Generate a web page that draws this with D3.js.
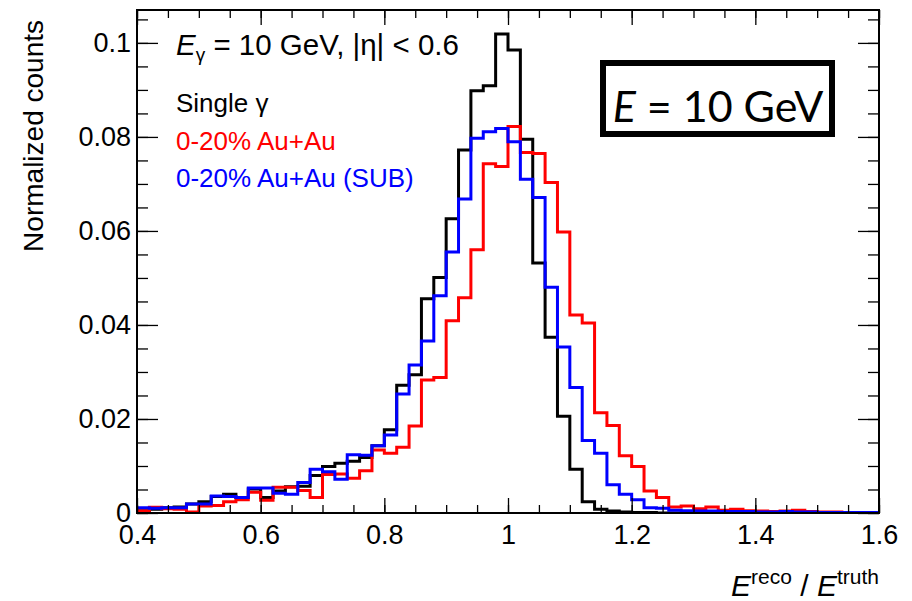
<!DOCTYPE html>
<html>
<head>
<meta charset="utf-8">
<script src="https://cdn.jsdelivr.net/npm/d3@7"></script>
<style>
  body { margin: 0; background: #fff; }
  svg { display: block; }
  text { font-family: "Liberation Sans", Arial, sans-serif; }
</style>
</head>
<body>
<div id="chart"></div>
<script>
// histogram binning (E_reco / E_truth)
const binStart = 0.4;
const binWidth = 0.02;

const singleGamma = [
  0.0005, 0.0008, 0.0011, 0.0013, 0.0019, 0.0024, 0.0035, 0.0040, 0.0033, 0.0051,
  0.0033, 0.0047, 0.0056, 0.0057, 0.0080, 0.0099, 0.0106, 0.0110, 0.0118, 0.0143,
  0.0177, 0.0272, 0.0294, 0.0456, 0.0501, 0.0626, 0.0772, 0.0898, 0.0909, 0.1019,
  0.0985, 0.0795, 0.0532, 0.0374, 0.0206, 0.0093, 0.0024, 0.0008, 0.0004, 0.0002,
  0.0001, 0.0001, 0, 0, 0, 0, 0, 0, 0, 0,
  0, 0, 0, 0, 0, 0, 0, 0, 0, 0
];
const auau = [
  0.0005, 0.0012, 0.0009, 0.0008, 0.0002, 0.0015, 0.0016, 0.0024, 0.0028, 0.0044,
  0.0027, 0.0055, 0.0055, 0.0048, 0.0033, 0.0082, 0.0083, 0.0074, 0.0090, 0.0134,
  0.0127, 0.0140, 0.0185, 0.0283, 0.0288, 0.0409, 0.0458, 0.0560, 0.0743, 0.0737,
  0.0822, 0.0767, 0.0765, 0.0703, 0.0598, 0.0421, 0.0404, 0.0213, 0.0186, 0.0122,
  0.0099, 0.0047, 0.0033, 0.0013, 0.0015, 0.0009, 0.0013, 0.0006, 0.0008, 0.0005,
  0.0004, 0.0003, 0.0004, 0.0006, 0.0003, 0.0002, 0.0002, 0.0001, 0.0001, 0.0001
];
const auauSub = [
  0.0011, 0.0010, 0.0011, 0.0011, 0.0019, 0.0019, 0.0036, 0.0035, 0.0033, 0.0053,
  0.0053, 0.0042, 0.0040, 0.0065, 0.0093, 0.0088, 0.0072, 0.0124, 0.0123, 0.0143,
  0.0166, 0.0253, 0.0315, 0.0366, 0.0462, 0.0555, 0.0668, 0.0797, 0.0811, 0.0818,
  0.0790, 0.0710, 0.0671, 0.0480, 0.0353, 0.0267, 0.0154, 0.0127, 0.0060, 0.0040,
  0.0028, 0.0011, 0.0010, 0.0006, 0.0005, 0.0004, 0.0004, 0.0003, 0.0003, 0.0003,
  0.0002, 0.0002, 0.0003, 0.0002, 0.0002, 0.0001, 0.0001, 0.0001, 0.0001, 0.0001
];

const seriesNames = ["Single \u03b3", "0-20% Au+Au", "0-20% Au+Au (SUB)"];
const seriesColors = ["#000000", "#ff0000", "#0000ff"];

const xTicks = [0.4, 0.6, 0.8, 1.0, 1.2, 1.4, 1.6];
const yTicks = [0, 0.02, 0.04, 0.06, 0.08, 0.1];

const width = 912, height = 601;
const margin = { left: 137, right: 33, top: 10, bottom: 88 };

const svg = d3.select("#chart").append("svg").attr("width", width).attr("height", height);

const x = d3.scaleLinear().domain([0.4, 1.6]).range([margin.left, width - margin.right]);
const y = d3.scaleLinear().domain([0, 0.107]).range([height - margin.bottom, margin.top]);

svg.append("defs").append("clipPath").attr("id", "frame")
  .append("rect")
  .attr("x", x.range()[0]).attr("y", y.range()[1])
  .attr("width", x.range()[1] - x.range()[0])
  .attr("height", y.range()[0] - y.range()[1]);

// histograms
const line = d3.line().x(d => x(d[0])).y(d => y(d[1])).curve(d3.curveStepAfter);
[singleGamma, auau, auauSub].forEach((vals, k) => {
  const pts = vals.map((v, i) => [binStart + i * binWidth, v]);
  pts.push([binStart + vals.length * binWidth, vals[vals.length - 1]]);
  svg.append("path")
    .attr("clip-path", "url(#frame)")
    .attr("d", line(pts))
    .attr("fill", "none")
    .attr("stroke", seriesColors[k])
    .attr("stroke-width", 3);
});

// axes: major + minor ticks on all four sides
const xMinor = d3.range(0.4, 1.6001, 0.05);
const yMinor = d3.range(0, 0.1071, 0.005);

function styleAxis(g) {
  g.select(".domain").remove();
  g.selectAll(".tick line").attr("stroke", "#000").attr("stroke-width", 1.3);
}

svg.append("g").attr("transform", `translate(0,${y(0)})`)
  .call(d3.axisBottom(x).tickValues(xMinor).tickSize(-8).tickFormat(""))
  .call(styleAxis);
svg.append("g").attr("transform", `translate(0,${y(0)})`)
  .call(d3.axisBottom(x).tickValues(xTicks).tickSize(-15).tickPadding(26).tickFormat(d3.format("~g")))
  .call(styleAxis)
  .call(g => g.selectAll("text").attr("font-size", 27).attr("fill", "#000").attr("dy", "0.2em"));
svg.append("g").attr("transform", `translate(0,${y.range()[1]})`)
  .call(d3.axisTop(x).tickValues(xMinor).tickSize(-8).tickFormat(""))
  .call(styleAxis);
svg.append("g").attr("transform", `translate(0,${y.range()[1]})`)
  .call(d3.axisTop(x).tickValues(xTicks).tickSize(-15).tickFormat(""))
  .call(styleAxis);

svg.append("g").attr("transform", `translate(${x(0.4)},0)`)
  .call(d3.axisLeft(y).tickValues(yMinor).tickSize(-11).tickFormat(""))
  .call(styleAxis);
svg.append("g").attr("transform", `translate(${x(0.4)},0)`)
  .call(d3.axisLeft(y).tickValues(yTicks).tickSize(-21).tickPadding(6).tickFormat(d3.format("~g")))
  .call(styleAxis)
  .call(g => g.selectAll("text").attr("font-size", 27).attr("fill", "#000").attr("x", -6));
svg.append("g").attr("transform", `translate(${x(1.6)},0)`)
  .call(d3.axisRight(y).tickValues(yMinor).tickSize(-11).tickFormat(""))
  .call(styleAxis);
svg.append("g").attr("transform", `translate(${x(1.6)},0)`)
  .call(d3.axisRight(y).tickValues(yTicks).tickSize(-21).tickFormat(""))
  .call(styleAxis);

// frame
svg.append("rect")
  .attr("x", x.range()[0]).attr("y", y.range()[1])
  .attr("width", x.range()[1] - x.range()[0])
  .attr("height", y.range()[0] - y.range()[1])
  .attr("fill", "none").attr("stroke", "#000").attr("stroke-width", 2);

// axis titles
svg.append("text")
  .attr("transform", `translate(43,20) rotate(-90)`)
  .attr("text-anchor", "end")
  .attr("font-size", 28)
  .text("Normalized counts");

const xt = svg.append("text")
  .attr("x", x.range()[1]).attr("y", 596)
  .attr("text-anchor", "end")
  .attr("font-size", 30);
xt.append("tspan").attr("font-style", "italic").text("E");
xt.append("tspan").attr("font-size", 21).attr("dy", -12).text("reco");
xt.append("tspan").attr("dy", 12).text(" / ");
xt.append("tspan").attr("font-style", "italic").text("E");
xt.append("tspan").attr("font-size", 21).attr("dy", -12).text("truth");

// header text
const head = svg.append("text").attr("x", 176).attr("y", 55).attr("font-size", 29.5);
head.append("tspan").attr("font-style", "italic").text("E");
head.append("tspan").attr("font-size", 19).attr("dy", 6).text("\u03b3");
head.append("tspan").attr("dy", -6).text(" = 10 GeV, |\u03b7| < 0.6");

// legend (text only)
seriesNames.forEach((name, i) => {
  svg.append("text")
    .attr("x", 176).attr("y", 112 + i * 37.5)
    .attr("font-size", 26)
    .attr("fill", seriesColors[i])
    .text(name);
});

// energy box
svg.append("rect")
  .attr("x", 603).attr("y", 63).attr("width", 229).attr("height", 71)
  .attr("fill", "#fff").attr("stroke", "#000").attr("stroke-width", 6);
const box = svg.append("text")
  .attr("x", 718).attr("y", 122)
  .attr("text-anchor", "middle")
  .style("font-family", "Lato, 'Open Sans', sans-serif")
  .attr("font-size", 43);
box.append("tspan").attr("font-style", "italic").text("E");
box.append("tspan").text(" = 10 GeV");
</script>
</body>
</html>
